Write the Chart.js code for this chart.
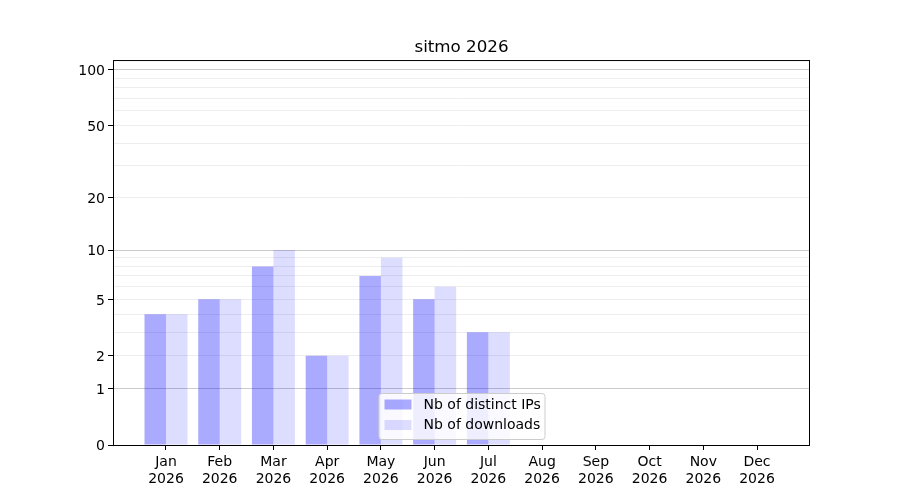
<!DOCTYPE html>
<html>
<head>
<meta charset="utf-8">
<script src="https://cdn.jsdelivr.net/npm/chart.js@4/dist/chart.umd.min.js"></script>
<style>
html, body { margin: 0; padding: 0; background: #fff; }
#wrap { width: 900px; height: 500px; }
</style>
</head>
<body>
<div id="wrap"><canvas id="chart" width="900" height="500"></canvas></div>
<script>
// Data
const months = ["Jan", "Feb", "Mar", "Apr", "May", "Jun", "Jul", "Aug", "Sep", "Oct", "Nov", "Dec"];
const yearLabel = "2026";
const distinctIps = [4, 5, 8, 2, 7, 5, 3, 0, 0, 0, 0, 0];
const downloads = [4, 5, 10, 2, 9, 6, 3, 0, 0, 0, 0, 0];
const yMajorTicks = [0, 1, 2, 5, 10, 20, 50, 100];
const yMinorTicks = [3, 4, 6, 7, 8, 9, 30, 40, 60, 70, 80, 90];
const yDarkGrid = [1, 10, 100];

const FONT = "'DejaVu Sans', sans-serif";

// y axis that maps v -> log10(v + 1)
const f1p = (v) => Math.log10(v + 1);

class Log1pScale extends Chart.LinearScale {
  getPixelForValue(value) {
    if (value === null || value === undefined || isNaN(value)) return NaN;
    const a = f1p(this.min), b = f1p(this.max);
    return this.getPixelForDecimal((f1p(value) - a) / (b - a));
  }
  getValueForPixel(pixel) {
    const a = f1p(this.min), b = f1p(this.max);
    const d = this.getDecimalForPixel(pixel);
    return Math.pow(10, a + d * (b - a)) - 1;
  }
}
Log1pScale.id = "log1p";
Chart.register(Log1pScale);

// frame + legend box like the original
const framePlugin = {
  id: "frameAndLegend",
  afterDraw(chart) {
    const ctx = chart.ctx;
    const a = chart.chartArea;
    ctx.save();
    ctx.strokeStyle = "#000";
    ctx.lineWidth = 1;
    ctx.strokeRect(a.left + 0.5, a.top + 0.5, a.right - a.left - 1, a.bottom - a.top);

    // legend
    const w = 166, h = 46;
    const x = (a.left + a.right) / 2 - w / 2;
    const y = a.bottom - 6 - h;
    ctx.beginPath();
    ctx.roundRect(x + 0.5, y + 0.5, w, h, 3);
    ctx.fillStyle = "rgba(255,255,255,0.8)";
    ctx.fill();
    ctx.strokeStyle = "#cccccc";
    ctx.stroke();

    ctx.font = "14px " + FONT;
    ctx.textBaseline = "middle";
    chart.data.datasets.forEach((ds, i) => {
      const ry = y + 11.5 + i * 20.5;
      ctx.fillStyle = ds.backgroundColor;
      ctx.fillRect(x + 6, ry - 5, 27, 10);
      ctx.fillStyle = "#000";
      ctx.fillText(ds.label, x + 45, ry + 0.5);
    });
    ctx.restore();
  }
};

new Chart(document.getElementById("chart"), {
  type: "bar",
  data: {
    datasets: [
      {
        label: "Nb of distinct IPs",
        data: months.map((m, i) => ({ x: i, y: distinctIps[i] })),
        backgroundColor: "rgba(0,0,255,0.333)",
        borderWidth: 0
      },
      {
        label: "Nb of downloads",
        data: months.map((m, i) => ({ x: i, y: downloads[i] })),
        backgroundColor: "rgba(0,0,255,0.133)",
        borderWidth: 0
      }
    ]
  },
  options: {
    responsive: false,
    animation: false,
    categoryPercentage: 0.8,
    barPercentage: 1.0,
    layout: { padding: { top: 0, right: 90, left: 0, bottom: 0 } },
    plugins: {
      legend: { display: false },
      tooltip: { enabled: false },
      title: {
        display: true,
        text: "sitmo 2026",
        fullSize: false,
        color: "#000",
        font: { family: FONT, size: 16.7, weight: "normal" },
        padding: { top: 38, bottom: 2 }
      }
    },
    scales: {
      x: {
        type: "linear",
        offset: false,
        min: -0.986,
        max: 11.986,
        afterBuildTicks: (scale) => {
          scale.ticks = months.map((m, i) => ({ value: i }));
        },
        afterFit: (scale) => { scale.height = 55; },
        border: { display: false },
        grid: {
          offset: false,
          drawOnChartArea: false,
          drawTicks: true,
          tickLength: 5,
          tickColor: "#000"
        },
        ticks: {
          autoSkip: false,
          maxRotation: 0,
          padding: 4,
          color: "#000",
          font: { family: FONT, size: 14 },
          callback: (v) => [months[v], yearLabel]
        }
      },
      y: {
        type: "log1p",
        min: 0,
        max: 113,
        afterBuildTicks: (scale) => {
          const all = yMajorTicks.concat(yMinorTicks).sort((p, q) => p - q);
          scale.ticks = all.map((v) => ({ value: v }));
        },
        afterFit: (scale) => { scale.width = 113; },
        border: { display: false },
        grid: {
          drawTicks: true,
          tickLength: 5,
          color: (c) => {
            const v = c.tick ? c.tick.value : null;
            if (v === 0) return "rgba(0,0,0,0)";
            return yDarkGrid.includes(v) ? "#cbcbcb" : "#ededed";
          },
          tickColor: (c) => (c.tick && yMajorTicks.includes(c.tick.value) ? "#000" : "rgba(0,0,0,0)")
        },
        ticks: {
          autoSkip: false,
          padding: 3,
          labelOffset: 1.5,
          color: "#000",
          font: { family: FONT, size: 14 },
          callback: (v) => (yMajorTicks.includes(v) ? String(v) : "")
        }
      }
    }
  },
  plugins: [framePlugin]
});
</script>
</body>
</html>
